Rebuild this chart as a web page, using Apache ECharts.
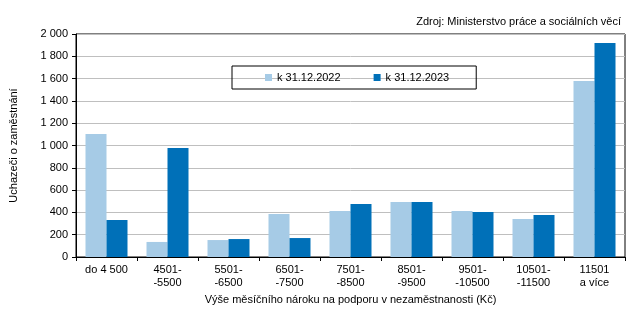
<!DOCTYPE html>
<html><head><meta charset="utf-8">
<script src="https://cdn.jsdelivr.net/npm/echarts@6/dist/echarts.min.js"></script>
<style>html,body{margin:0;padding:0;background:#fff}#c{width:643px;height:323px}</style>
</head><body><div id="c"></div>
<script>
const categories = ['do 4 500', '4501-\n-5500', '5501-\n-6500', '6501-\n-7500', '7501-\n-8500', '8501-\n-9500', '9501-\n-10500', '10501-\n-11500', '11501\na více'];
const s2022 = [1103, 135, 152, 386, 413, 493, 413, 341, 1578];
const s2023 = [332, 978, 161, 170, 475, 493, 404, 377, 1919];
const yTicks = {min: 0, max: 2000, interval: 200};
const names = ['k 31.12.2022', 'k 31.12.2023'];
const F = 'Liberation Sans, Arial, sans-serif';
const chart = echarts.init(document.getElementById('c'));
chart.setOption({
  animation: false,
  textStyle: {fontFamily: F},
  title: {text: 'Zdroj: Ministerstvo práce a sociálních věcí', right: 17, top: 11,
    textStyle: {fontSize: 11, fontWeight: 'normal', color: '#000', fontFamily: F}},
  legend: {left: 232, top: 66, itemWidth: 7, itemHeight: 7, itemGap: 33,
    padding: [6, 27, 6, 33], borderColor: '#000', borderWidth: 1, icon: 'rect',
    textStyle: {fontSize: 11, color: '#000', fontFamily: F}, data: names},
  grid: {left: 73, right: 18, top: 34, bottom: 66, show: true, borderColor: '#000', borderWidth: 1},
  xAxis: {type: 'category', data: categories,
    name: 'Výše měsíčního nároku na podporu v nezaměstnanosti (Kč)', nameLocation: 'middle', nameGap: 37,
    nameTextStyle: {fontSize: 11, color: '#000'},
    axisLine: {lineStyle: {color: '#000'}}, axisTick: {show: true, length: 4, lineStyle: {color: '#000'}},
    axisLabel: {fontSize: 11, color: '#000', lineHeight: 13, margin: 6, interval: 0}},
  yAxis: {type: 'value', min: yTicks.min, max: yTicks.max, interval: yTicks.interval,
    name: 'Uchazeči o zaměstnání', nameLocation: 'middle', nameGap: 57, nameRotate: 90,
    nameTextStyle: {fontSize: 11, color: '#000'},
    axisLine: {show: true, lineStyle: {color: '#000'}}, axisTick: {show: true, length: 4, lineStyle: {color: '#000'}},
    splitLine: {lineStyle: {color: '#bfbfbf'}},
    axisLabel: {fontSize: 11, color: '#000', margin: 8, formatter: v => v >= 1000 ? Math.floor(v/1000) + ' ' + String(v%1000).padStart(3,'0') : String(v)}},
  series: [
    {name: names[0], type: 'bar', data: s2022, barWidth: 21, barGap: '0%', itemStyle: {color: '#a6cbe6'}},
    {name: names[1], type: 'bar', data: s2023, barWidth: 21, itemStyle: {color: '#0070b8'}}
  ]
});
</script></body></html>
